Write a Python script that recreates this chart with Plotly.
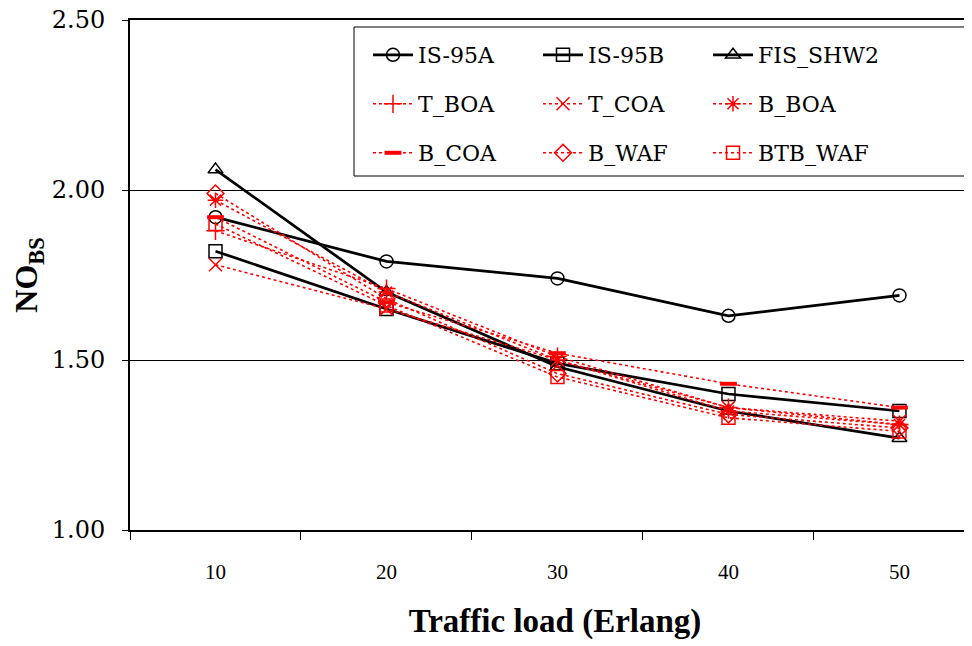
import plotly.graph_objects as go

loads = [10, 20, 30, 40, 50]
tick_labels = ["10", "20", "30", "40", "50"]

is95a = [1.92, 1.79, 1.74, 1.63, 1.69]
is95b = [1.82, 1.65, 1.49, 1.40, 1.35]
fis_shw2 = [2.06, 1.70, 1.48, 1.35, 1.27]
t_boa = [1.88, 1.71, 1.51, 1.36, 1.31]
t_coa = [1.78, 1.65, 1.50, 1.36, 1.32]
b_boa = [1.97, 1.70, 1.50, 1.35, 1.31]
b_coa = [1.92, 1.67, 1.52, 1.43, 1.36]
b_waf = [1.99, 1.68, 1.46, 1.34, 1.30]
btb_waf = [1.90, 1.66, 1.45, 1.33, 1.29]

SERIF = "Liberation Serif"
WIDE = "DejaVu Serif"

series = [
    ("IS-95A", is95a, "black", "circle-open", "solid", 2.75, "legend"),
    ("IS-95B", is95b, "black", "square-open", "solid", 2.75, "legend"),
    ("FIS_SHW2", fis_shw2, "black", "triangle-up-open", "solid", 2.75, "legend"),
    ("T_BOA", t_boa, "red", "cross-thin-open", "3px,3px", 1.6, "legend2"),
    ("T_COA", t_coa, "red", "x-thin-open", "3px,3px", 1.6, "legend2"),
    ("B_BOA", b_boa, "red", "asterisk-open", "3px,3px", 1.6, "legend2"),
    ("B_COA", b_coa, "red", "line-ew-open", "3px,3px", 1.6, "legend3"),
    ("B_WAF", b_waf, "red", "diamond-open", "3px,3px", 1.6, "legend3"),
    ("BTB_WAF", btb_waf, "red", "square-open", "3px,3px", 1.6, "legend3"),
]

fig = go.Figure()
for name, vals, color, sym, dash, lw, leg in series:
    mlw = 1.5
    msize = 13
    if sym == "line-ew-open":
        mlw = 4
        msize = 12
    fig.add_trace(go.Scatter(
        x=loads, y=vals, name=name, mode="lines+markers",
        line=dict(color=color, width=lw, dash=dash),
        marker=dict(symbol=sym, size=msize, color=color,
                    line=dict(color=color, width=mlw)),
        legend=leg,
    ))

# page body offsets the figure by 8px; map screen px -> paper
def px_x(p):
    return (p - 130) / 850.0

def px_y(p):
    return (530 - p) / 510.0

leg_common = dict(orientation="h", entrywidth=115, entrywidthmode="pixels",
                  xanchor="left", yanchor="middle", x=px_x(368),
                  bgcolor="rgba(0,0,0,0)", borderwidth=0,
                  font=dict(family=WIDE, size=22, color="black"),
                  itemwidth=40)

fig.update_layout(
    width=972, height=646,
    margin=dict(l=122, r=0, t=12, b=124),
    paper_bgcolor="white", plot_bgcolor="white",
    font=dict(family=SERIF, size=20, color="black"),
    legend=dict(leg_common, y=px_y(55)),
    legend2=dict(leg_common, y=px_y(104)),
    legend3=dict(leg_common, y=px_y(153)),
    showlegend=True,
)

fig.add_shape(type="rect", xref="paper", yref="paper",
              x0=px_x(354), x1=px_x(970), y0=px_y(176), y1=px_y(27),
              line=dict(color="black", width=1), fillcolor="rgba(0,0,0,0)",
              layer="below")

fig.update_xaxes(
    range=[5, 54.71], tickvals=loads, ticktext=tick_labels, ticks="",
    showgrid=False, zeroline=False, automargin=False,
    showline=True, linecolor="black", linewidth=2, mirror=True,
    tickfont=dict(family=SERIF, size=21),
    ticklabelstandoff=22,
    minor=dict(ticks="outside", tick0=5, dtick=10, ticklen=8,
               tickcolor="black", tickwidth=1, showgrid=False),
    title=dict(text="<b>Traffic load (Erlang)</b>",
               font=dict(family=SERIF, size=33), standoff=26),
)

fig.update_yaxes(
    range=[1.0, 2.5], tickvals=[1.0, 1.5, 2.0, 2.5],
    ticktext=["1.00", "1.50", "2.00", "2.50"],
    ticks="outside", ticklen=6, tickcolor="black", tickwidth=1,
    showgrid=True, gridcolor="black", gridwidth=1,
    zeroline=False, showline=True, linecolor="black", linewidth=2,
    automargin=False, ticklabeloverflow="allow",
    tickfont=dict(family=WIDE, size=24),
    ticklabelstandoff=12,
    title=dict(text="<b>NO<sub>BS</sub></b>",
               font=dict(family=SERIF, size=32), standoff=10),
)

fig.write_html("out.html")
